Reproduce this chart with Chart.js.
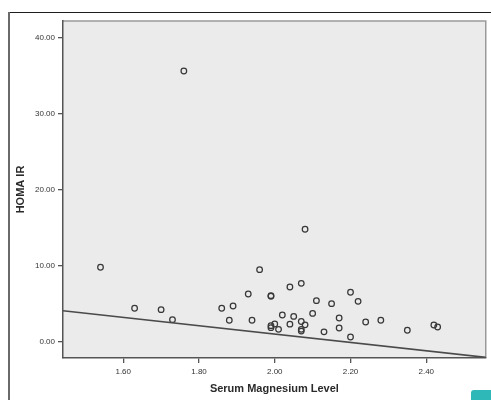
<!DOCTYPE html>
<html>
<head>
<meta charset="utf-8">
<script src="https://cdn.jsdelivr.net/npm/chart.js@4/dist/chart.umd.min.js"></script>
<style>
  html, body { margin:0; padding:0; background:#fff; }
  #wrap { position:relative; width:491px; height:400px; overflow:hidden; }
  canvas { position:absolute; left:0; top:0; }
  #frameTop { position:absolute; left:8px; top:12px; width:483px; height:1px; background:#1e1e1e; }
  #frameLeft { position:absolute; left:8px; top:12px; width:2px; height:388px; background:#6a6a6a; }
  #badge { position:absolute; left:471px; top:390px; width:20px; height:10px; background:#2fb8b8; border-top-left-radius:3px; }
</style>
</head>
<body>
<div id="wrap">
  <canvas id="c" width="491" height="400"></canvas>
  <div id="frameTop"></div>
  <div id="frameLeft"></div>
  <div id="badge"></div>
</div>
<script>
// Serum magnesium level (x) and HOMA IR (y) for each subject
const magnesium = [1.76, 1.54, 1.63, 1.70, 1.73, 1.86, 1.89, 1.88, 1.93, 1.94,
                   1.96, 1.99, 1.99, 2.08, 2.07, 2.04, 2.20, 2.11, 2.15, 2.22,
                   2.02, 2.05, 2.10, 2.04, 1.99, 1.99, 2.00, 2.01, 2.07, 2.08,
                   2.07, 2.07, 2.13, 2.17, 2.17, 2.20, 2.24, 2.28, 2.35, 2.42, 2.43];
const homaIR   = [35.66, 9.80, 4.40, 4.22, 2.90, 4.40, 4.70, 2.82, 6.28, 2.82,
                  9.49, 6.06, 5.98, 14.81, 7.69, 7.21, 6.51, 5.40, 5.01, 5.32,
                  3.52, 3.33, 3.72, 2.31, 2.11, 1.85, 2.33, 1.63, 2.66, 2.22,
                  1.63, 1.40, 1.30, 3.12, 1.80, 0.62, 2.59, 2.82, 1.50, 2.20, 1.94];
// Fitted regression line end points
const fitX = [1.441, 2.557];
const fitY = [4.08, -2.07];
// Axis ticks
const xTicks = [1.60, 1.80, 2.00, 2.20, 2.40];
const yTicks = [0, 10, 20, 30, 40];
const xTitle = 'Serum Magnesium Level';
const yTitle = 'HOMA IR';

const points = magnesium.map((x, i) => ({x: x, y: homaIR[i]}));
const fitLine = fitX.map((x, i) => ({x: x, y: fitY[i]}));

const plotBg = {
  id: 'plotBg',
  beforeDraw(chart) {
    const {ctx, chartArea: a} = chart;
    ctx.save();
    ctx.fillStyle = '#ebebeb';
    ctx.fillRect(a.left, a.top, a.right - a.left, a.bottom - a.top);
    ctx.strokeStyle = '#9a9a9a';
    ctx.lineWidth = 1.5;
    ctx.beginPath();
    ctx.moveTo(a.left, a.top);
    ctx.lineTo(a.right, a.top);
    ctx.lineTo(a.right, a.bottom);
    ctx.stroke();
    ctx.restore();
  }
};

const tickFont = {family: 'Liberation Sans', size: 8};
const titleFont = {family: 'Liberation Sans', size: 11, weight: 'bold'};

new Chart(document.getElementById('c'), {
  type: 'scatter',
  data: {
    datasets: [
      {
        type: 'line',
        data: fitLine,
        borderColor: '#4a4a4a',
        borderWidth: 1.6,
        pointRadius: 0,
        fill: false,
        tension: 0
      },
      {
        data: points,
        pointRadius: 2.8,
        pointBorderWidth: 1.25,
        pointBorderColor: '#383838',
        pointBackgroundColor: 'rgba(0,0,0,0)',
        showLine: false
      }
    ]
  },
  options: {
    responsive: false,
    animation: false,
    layout: {padding: {top: 21, right: 4, left: 0, bottom: 0}},
    plugins: {legend: {display: false}, tooltip: {enabled: false}},
    scales: {
      x: {
        type: 'linear',
        min: 1.441,
        max: 2.557,
        afterBuildTicks: s => { s.ticks = xTicks.map(v => ({value: v})); },
        afterFit: s => { s.height = 42; },
        ticks: {
          callback: v => Number(v).toFixed(2),
          font: tickFont, color: '#333', padding: 4,
          maxRotation: 0, autoSkip: false
        },
        grid: {drawOnChartArea: false, drawTicks: true, tickLength: 5, color: '#555', lineWidth: 1.3},
        border: {color: '#555', width: 1.5},
        title: {display: true, text: xTitle, font: titleFont, color: '#2a2a2a', padding: {top: 0, bottom: 4}}
      },
      y: {
        type: 'linear',
        min: -2.15,
        max: 42.25,
        afterBuildTicks: s => { s.ticks = yTicks.map(v => ({value: v})); },
        afterFit: s => { s.width = 63; },
        ticks: {
          callback: v => Number(v).toFixed(2),
          font: tickFont, color: '#333', padding: 3, autoSkip: false
        },
        grid: {drawOnChartArea: false, drawTicks: true, tickLength: 5, color: '#555', lineWidth: 1.3},
        border: {color: '#555', width: 1.5},
        title: {display: true, text: yTitle, font: titleFont, color: '#2a2a2a', padding: {top: 14, bottom: 0}}
      }
    }
  },
  plugins: [plotBg]
});
</script>
</body>
</html>
